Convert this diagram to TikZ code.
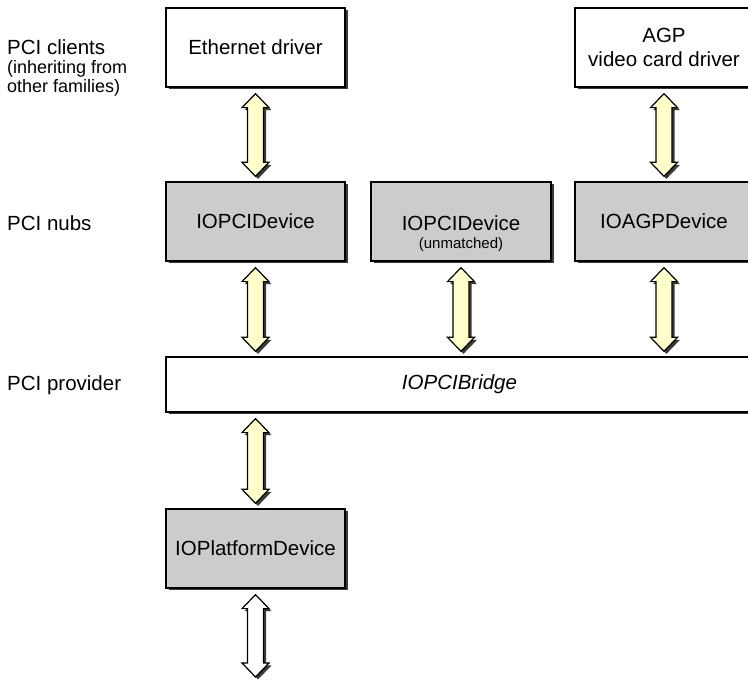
\documentclass[tikz,border=0pt]{standalone}
\usepackage{fontspec}
\setmainfont{Liberation Sans}
\usetikzlibrary{calc,shadows,positioning}

\definecolor{nubgray}{HTML}{CCCCCC}
\definecolor{arrowyellow}{HTML}{FFFFCC}
\definecolor{shadowgray}{HTML}{3A3A3A}

\tikzset{
  layer/.style={font=\fontsize{20.5}{24}\selectfont, anchor=west, inner sep=0pt},
  smallnote/.style={font=\fontsize{18}{19}\selectfont, align=left, anchor=west, inner sep=0pt},
  kbox/.style={draw=black, line width=1.3pt, fill=white, align=center, inner sep=0pt,
    font=\fontsize{20.5}{24}\selectfont, minimum height=79pt,
    drop shadow={shadow xshift=2.5pt, shadow yshift=-2.5pt, fill=shadowgray, opacity=1}},
  driverbox/.style={kbox},
  nubbox/.style={kbox, fill=nubgray},
  bridgebox/.style={kbox, minimum height=55pt, font=\fontsize{20.5}{24}\selectfont\itshape},
  arrowrim/.style={draw=black, line width=1.2pt, line join=miter},
}

% outline of a fat double arrow: x, top tip, bottom tip
\newcommand\arrowshape[3]{(#1,#2) -- ++(13.5pt,-14pt) -- ++(-5.5pt,0) -- (#1+8pt,#3+14pt)
  -- ++(5.5pt,0) -- (#1,#3) -- ++(-13.5pt,14pt) -- ++(5.5pt,0) -- (#1-8pt,#2-14pt)
  -- ++(-5.5pt,0) -- cycle}
\newcommand\busarrow[3][arrowyellow]{%
  \fill[shadowgray] let \p1=(#2), \p2=(#3) in
    \arrowshape{\x1+2.5pt}{\y1-8.5pt}{\y2+2.5pt};
  \filldraw[fill=#1, arrowrim] let \p1=(#2), \p2=(#3) in
    \arrowshape{\x1}{\y1-6pt}{\y2+5pt};
}

\begin{document}
\begin{tikzpicture}[x=1pt,y=1pt]
  \useasboundingbox (0,0) rectangle (748,682);

  % layer names
  \node[layer] (clients) at (7,635) {PCI clients};
  \node[smallnote] (clientsnote) at (7,603.5) {(inheriting from\\other families)};
  \node[layer] (nubs) at (7,459) {PCI nubs};
  \node[layer] (provider) at (7,297) {PCI provider};

  % drivers
  \node[driverbox, minimum width=179pt] (eth) at (255.5,634.5) {Ethernet driver};
  \node[driverbox, minimum width=178pt] (agp) at (664,634.5) {AGP\\video card driver};

  % nubs
  \node[nubbox, minimum width=179pt] (pcidev) at (255.5,460.5) {IOPCIDevice};
  \node[nubbox, minimum width=180pt, text height=19pt] (pcifree) at (461,460.5) {IOPCIDevice};
  \node[font=\fontsize{15}{17}\selectfont, inner sep=0pt] (pcifreenote) at (461,437.5) {(unmatched)};
  \node[nubbox, minimum width=178pt] (agpdev) at (664,460.5) {IOAGPDevice};

  % provider and platform
  \node[bridgebox, minimum width=587pt] (bridge) at (459.5,297.5) {IOPCIBridge};
  \node[nubbox, minimum width=179pt] (platdev) at (255.5,133.5) {IOPlatformDevice};
  \coordinate (busout) at (255.5,0);

  \busarrow{eth.south}{pcidev.north}
  \busarrow{agp.south}{agpdev.north}
  \busarrow{pcidev.south}{bridge.north}
  \busarrow{pcifree.south}{bridge.north}
  \busarrow{agpdev.south}{bridge.north}
  \busarrow{platdev.north |- bridge.south}{platdev.north}
  \busarrow[white]{platdev.south}{busout}
\end{tikzpicture}
\end{document}
